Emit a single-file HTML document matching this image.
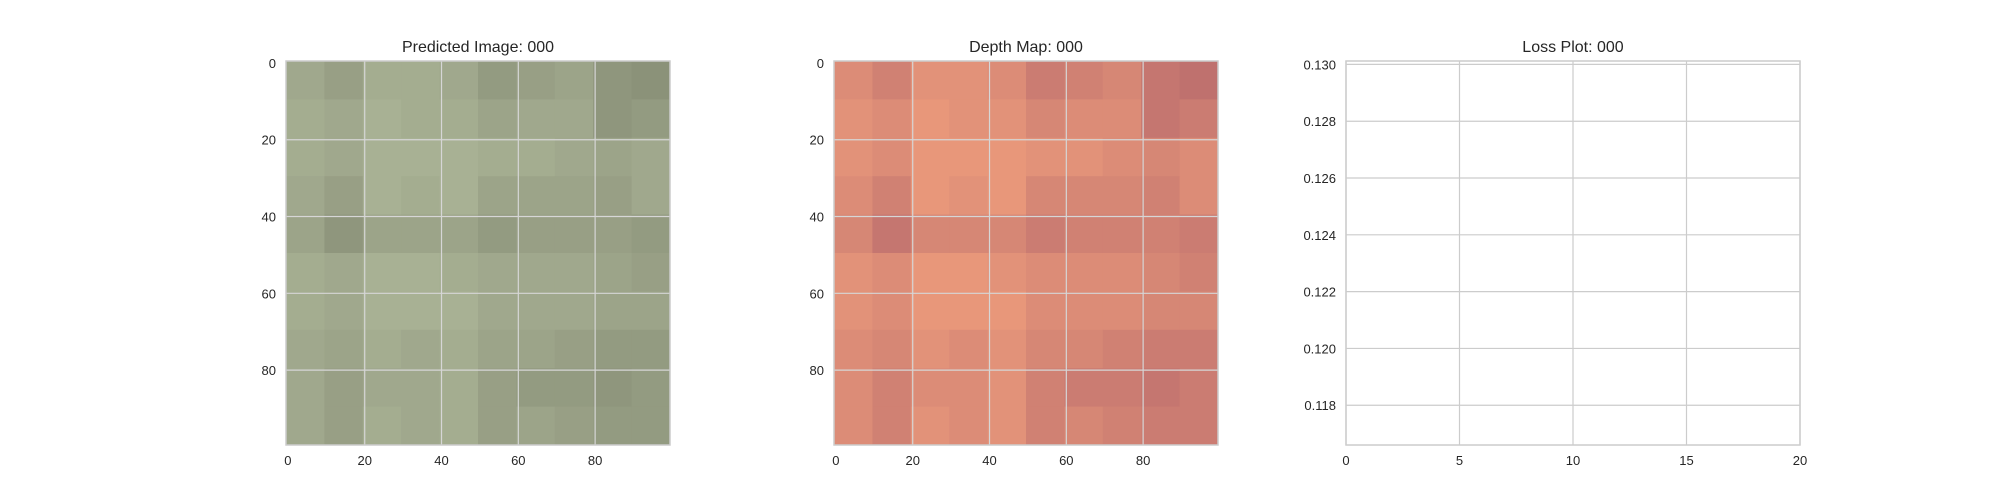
<!DOCTYPE html>
<html><head><meta charset="utf-8"><style>
html,body{margin:0;padding:0;background:#fff;}
svg{display:block;font-family:"Liberation Sans",sans-serif;}
</style></head><body>
<svg id="chart" width="2000" height="500" viewBox="0 0 2000 500">
<rect width="2000" height="500" fill="#fff"/>
</svg>
<script>
// Coarse 10x10 block estimates (fraction of dark cells per 10x10 data block)
const darkRow0=[0.2,0.3,0.15,0.15,0.2,0.35,0.3,0.25,0.4,0.45];
const darkRow1=[0.15,0.2,0.1,0.15,0.15,0.25,0.2,0.2,0.4,0.35];
const darkRow2=[0.15,0.2,0.1,0.1,0.1,0.15,0.15,0.2,0.25,0.2];
const darkRow3=[0.2,0.3,0.1,0.15,0.1,0.25,0.25,0.25,0.3,0.2];
const darkRow4=[0.25,0.4,0.25,0.25,0.25,0.35,0.3,0.3,0.3,0.35];
const darkRow5=[0.15,0.2,0.1,0.1,0.15,0.2,0.2,0.2,0.25,0.3];
const darkRow6=[0.15,0.2,0.1,0.1,0.1,0.2,0.2,0.2,0.25,0.25];
const darkRow7=[0.2,0.25,0.15,0.2,0.15,0.25,0.25,0.3,0.35,0.35];
const darkRow8=[0.2,0.3,0.2,0.2,0.15,0.3,0.35,0.35,0.4,0.35];
const darkRow9=[0.2,0.3,0.15,0.2,0.15,0.3,0.25,0.3,0.35,0.35];
const heatTicks=[0,20,40,60,80];
const lossXTicks=[0,5,10,15,20];
const lossYTicks=[0.118,0.120,0.122,0.124,0.126,0.128,0.130];
const lossValues=[];

const NS="http://www.w3.org/2000/svg";
const svg=document.getElementById('chart');
function mk(tag,attrs,parent){const e=document.createElementNS(NS,tag);for(const k in attrs)e.setAttribute(k,attrs[k]);(parent||svg).appendChild(e);return e;}
function mix(a,b,t){return 'rgb('+a.map((v,i)=>Math.round(v+(b[i]-v)*t)).join(',')+')';}
const rows=[darkRow0,darkRow1,darkRow2,darkRow3,darkRow4,darkRow5,darkRow6,darkRow7,darkRow8,darkRow9];

function heatPanel(x0,title,light,dark,name){
  const y0=61,S=384,N=100;
  const g=mk('g',{});
  
  
  const sx=v=>x0+(v+0.5)*S/N, sy=v=>y0+(v+0.5)*S/N;
  rows.forEach((r,ri)=>r.forEach((f,ci)=>{
    const c=mk('rect',{x:sx(ci*10-0.5),y:sy(ri*10-0.5),width:S/10+0.5,height:S/10+0.5,fill:mix(light,dark,f*0.8)},g);
    
    
  }));
  heatTicks.forEach(t=>{
    if(t>0){
      const l1=mk('line',{x1:sx(t),x2:sx(t),y1:y0,y2:y0+S,stroke:'#d6d6d6','stroke-width':1.2},g);
      
      
      const l2=mk('line',{x1:x0,x2:x0+S,y1:sy(t),y2:sy(t),stroke:'#d6d6d6','stroke-width':1.2},g);
      
      
    }
    const tx=mk('text',{x:sx(t),y:465,'text-anchor':'middle','font-size':13,fill:'#262626'},g);tx.textContent=t;
    
    
    const ty=mk('text',{x:x0-10,y:sy(t)+5,'text-anchor':'end','font-size':13,fill:'#262626'},g);ty.textContent=t;
    
    
  });
  const fr=mk('rect',{x:x0,y:y0,width:S,height:S,fill:'none',stroke:'#cccccc','stroke-width':1.5},g);
  
  
  const tt=mk('text',{x:x0+S/2,y:52,'text-anchor':'middle','font-size':16,fill:'#262626'},g);tt.textContent=title;
  
  
}
heatPanel(286,'Predicted Image: 000',[176,186,156],[74,74,60],'predicted-image-panel');
heatPanel(834,'Depth Map: 000',[244,162,126],[96,26,82],'depth-map-panel');

// Loss plot
(function(){
  const x0=1346,x1=1800,y0=61,y1=445;
  const xmin=0,xmax=20,ymin=0.11660,ymax=0.13012;
  const sx=v=>x0+(v-xmin)/(xmax-xmin)*(x1-x0);
  const sy=v=>y1-(v-ymin)/(ymax-ymin)*(y1-y0);
  const g=mk('g',{});
  
  
  lossXTicks.forEach(t=>{
    const l=mk('line',{x1:sx(t),x2:sx(t),y1:y0,y2:y1,stroke:'#cccccc','stroke-width':1.2},g);
    
    
    const tx=mk('text',{x:sx(t),y:465,'text-anchor':'middle','font-size':13,fill:'#262626'},g);tx.textContent=t;
    
    
  });
  lossYTicks.forEach(t=>{
    const l=mk('line',{x1:x0,x2:x1,y1:sy(t),y2:sy(t),stroke:'#cccccc','stroke-width':1.2},g);
    
    
    const ty=mk('text',{x:x0-10,y:sy(t)+5,'text-anchor':'end','font-size':13,fill:'#262626'},g);ty.textContent=t.toFixed(3);
    
    
  });
  if(lossValues.length){
    const p=mk('polyline',{points:lossValues.map((v,i)=>sx(i)+','+sy(v)).join(' '),fill:'none',stroke:'#1f77b4','stroke-width':1.5},g);
    
    
  }
  const fr=mk('rect',{x:x0,y:y0,width:x1-x0,height:y1-y0,fill:'none',stroke:'#cccccc','stroke-width':1.5},g);
  
  
  const tt=mk('text',{x:(x0+x1)/2,y:52,'text-anchor':'middle','font-size':16,fill:'#262626'},g);tt.textContent='Loss Plot: 000';
  
  
})();
</script>
</body></html>
